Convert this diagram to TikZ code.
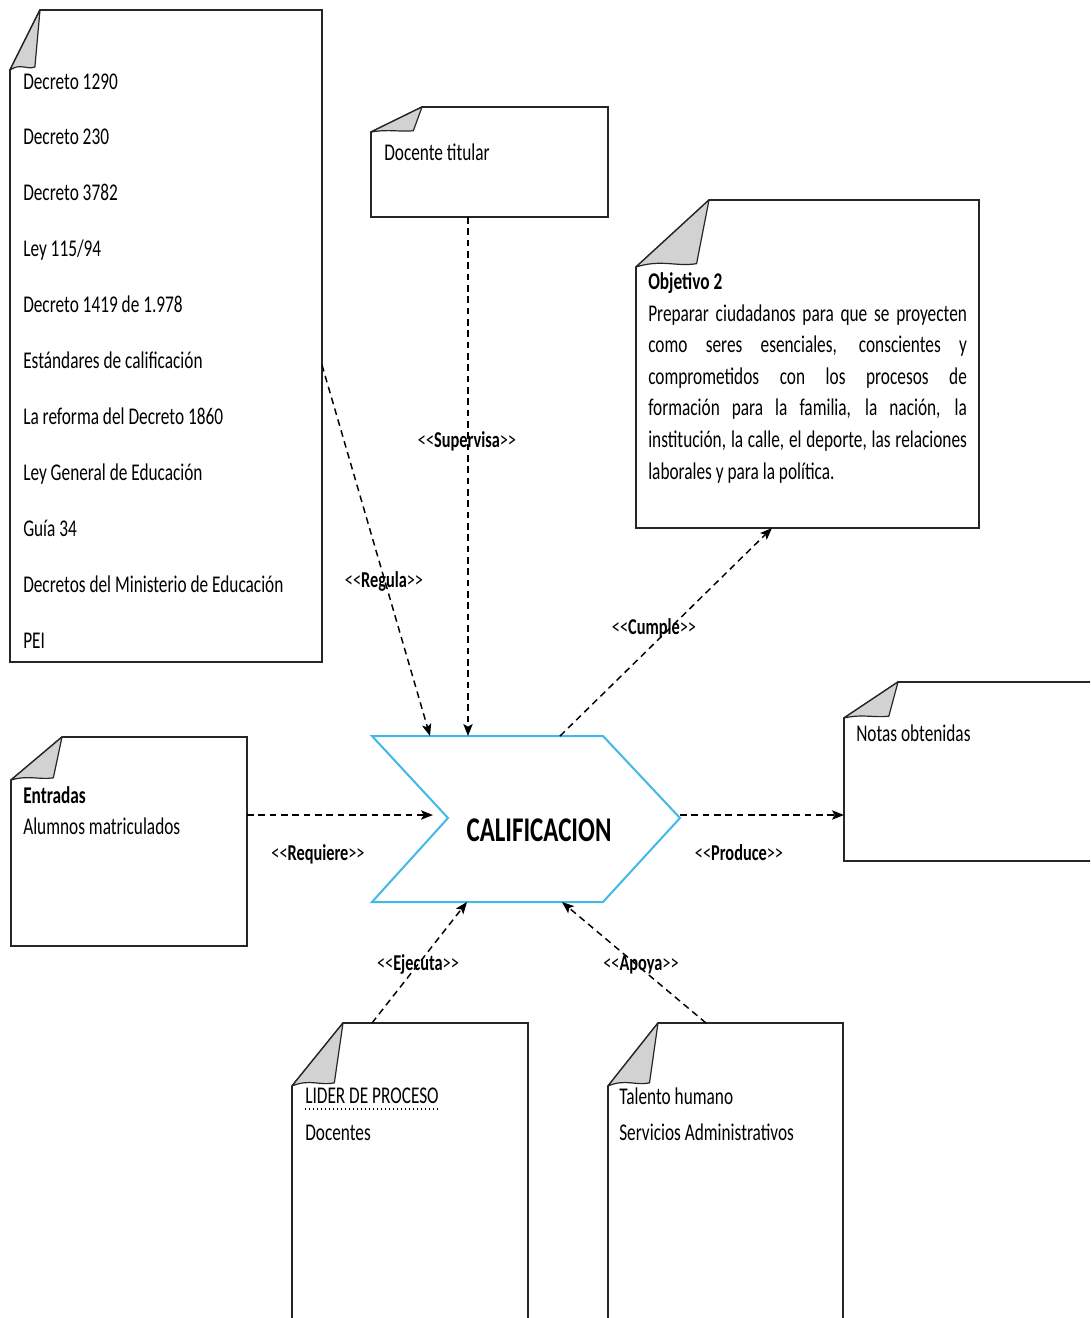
\documentclass[tikz,border=0pt]{standalone}
\usepackage{fontspec}
\setmainfont{Carlito}[FakeStretch=0.72]
\usetikzlibrary{arrows.meta,calc}

\definecolor{chevblue}{RGB}{64,184,232}
\definecolor{curlgray}{RGB}{210,210,210}

\tikzset{
  pageline/.style={draw=black!85, line width=1.2pt, fill=white, line join=miter},
  curl/.style={draw=black!85, line width=0.9pt, fill=curlgray, line join=round},
  pagebox/.style={inner sep=0pt, outer sep=0pt, draw=none, anchor=north west},
  txt/.style={inner sep=0pt, anchor=base west, font=\fontsize{18}{22}\selectfont},
  lbl/.style={inner sep=0pt, anchor=base, font=\fontsize{17}{20}\selectfont},
  chev/.style={draw=chevblue, line width=1.5pt, fill=white, line join=miter},
  dep/.style={draw=black, line width=1.1pt, dash pattern=on 5pt off 3.5pt,
              -{Stealth[length=9pt,width=7pt,inset=2pt]}},
}

% folded-corner page: name, x1, y1, x2, y2, fold x, fold y
\newcommand\docpage[7]{%
  \node[pagebox, minimum width={(#4-#2)*0.75pt}, minimum height={(#5-#3)*0.75pt}] (#1) at (#2,#3) {};
  \draw[pageline] ($(#1.north west)+(#6,0)$) -- (#1.north east) -- (#1.south east)
    -- (#1.south west) -- ($(#1.north west)+(0,#7)$) -- cycle;
  \filldraw[curl] ($(#1.north west)+(#6,0)$) -- ($(#1.north west)+(0,#7)$)
    .. controls ($(#1.north west)+(0.35*#6,-0.12*#7+#7)$) and ($(#1.north west)+(0.55*#6,#7)$)
    .. ($(#1.north west)+(0.83*#6,0.95*#7)$) -- cycle;
}

\newcommand\stereo[1]{<\kern0pt<\textbf{#1}>\kern0pt>}

\begin{document}
\begin{tikzpicture}[x=0.75pt,y=-0.75pt]
\useasboundingbox (0,0) rectangle (1090,1318);
\clip (0,0) rectangle (1090,1318);

% ---- pages ----
\docpage{leyes}{10}{10}{322}{662}{30}{60}
\docpage{docente}{371}{107}{608}{217}{51}{25}
\docpage{objetivo}{636}{200}{979}{528}{73}{67}
\docpage{entradas}{11}{737}{247}{946}{51}{43}
\docpage{notas}{844}{682}{1100}{861}{54}{36}
\docpage{lider}{292}{1023}{528}{1340}{51}{63}
\docpage{talento}{608}{1023}{843}{1340}{50}{63}

% ---- page texts ----
\foreach \t [count=\i from 0] in {Decreto 1290, Decreto 230, Decreto 3782, Ley 115/94,
    Decreto 1419 de 1.978, Estándares de calificación, La reforma del Decreto 1860,
    Ley General de Educación, Guía 34, Decretos del Ministerio de Educación, PEI}
  \node[txt] (ley\i) at (23,{89+55.9*\i}) {\t};

\node[txt] (docente-t) at (384,160) {Docente titular};

\node[txt] (objetivo-h) at (648,289) {\textbf{Objetivo 2}};
\node[txt] (objetivo-t) at (648,321) {\parbox[t]{239pt}{\fontsize{18}{23.7}\selectfont
  \makebox[239pt][s]{Preparar ciudadanos para que se proyecten}\\
  \makebox[239pt][s]{como seres esenciales, conscientes y}\\
  \makebox[239pt][s]{comprometidos con los procesos de}\\
  \makebox[239pt][s]{formación para la familia, la nación, la}\\
  \makebox[239pt][s]{institución, la calle, el deporte, las relaciones}\\
  laborales y para la política.}};

\node[txt] (entradas-h) at (23,803) {\textbf{Entradas}};
\node[txt] (entradas-t) at (23,834) {Alumnos matriculados};

\node[txt] (notas-t) at (856,741) {Notas obtenidas};

\node[txt] (lider-h) at (305,1103) {LIDER DE PROCESO};
\draw[line width=1pt, dotted] ($(lider-h.base west)+(0,6)$) -- ($(lider-h.base east)+(0,6)$);
\node[txt] (lider-t) at (305,1140) {Docentes};

\node[txt] (talento-h) at (619,1104) {Talento humano};
\node[txt] (talento-t) at (619,1140) {Servicios Administrativos};

% ---- process chevron ----
\coordinate (cA) at (372,736);
\coordinate (cB) at (603,736);
\coordinate (cT) at (680,818);
\coordinate (cC) at (603,902);
\coordinate (cD) at (372,902);
\coordinate (cN) at (448,818);
\draw[chev] (cA) -- (cB) -- (cT) -- (cC) -- (cD) -- (cN) -- cycle;
\node[inner sep=0pt, anchor=base, font=\fontsize{26}{30}\selectfont\bfseries] (calif) at (539,841) {CALIFICACION};

% ---- connector end points ----
\coordinate (leyes-o)   at (322,365);
\coordinate (docente-o) at (468,217);
\coordinate (objetivo-i) at (772,528);
\coordinate (entradas-o) at (247,815);
\coordinate (notas-i)   at (844,815);
\coordinate (lider-o)   at (372,1023);
\coordinate (talento-o) at (706,1023);
\coordinate (calif-n1) at (430,736);
\coordinate (calif-n2) at (468,736);
\coordinate (calif-n3) at (560,736);
\coordinate (calif-w)  at (433,815);
\coordinate (calif-e)  at (680,815);
\coordinate (calif-s1) at (467,902);
\coordinate (calif-s2) at (562,902);

% ---- connectors ----
\draw[dep] (leyes-o) -- (calif-n1);
\draw[dep] (docente-o) -- (calif-n2);
\draw[dep] (calif-n3) -- (objetivo-i);
\draw[dep] (entradas-o) -- (calif-w);
\draw[dep] (calif-e) -- (notas-i);
\draw[dep] (lider-o) -- (calif-s1);
\draw[dep] (talento-o) -- (calif-s2);

% ---- connector labels ----
\node[lbl] (l-regula)    at (384,587) {\stereo{Regula}};
\node[lbl] (l-supervisa) at (467,447) {\stereo{Supervisa}};
\node[lbl] (l-cumple)    at (654,634) {\stereo{Cumple}};
\node[lbl] (l-requiere)  at (318,860) {\stereo{Requiere}};
\node[lbl] (l-produce)   at (739,860) {\stereo{Produce}};
\node[lbl] (l-ejecuta)   at (418,970) {\stereo{Ejecuta}};
\node[lbl] (l-apoya)     at (641,970) {\stereo{Apoya}};
\end{tikzpicture}
\end{document}
